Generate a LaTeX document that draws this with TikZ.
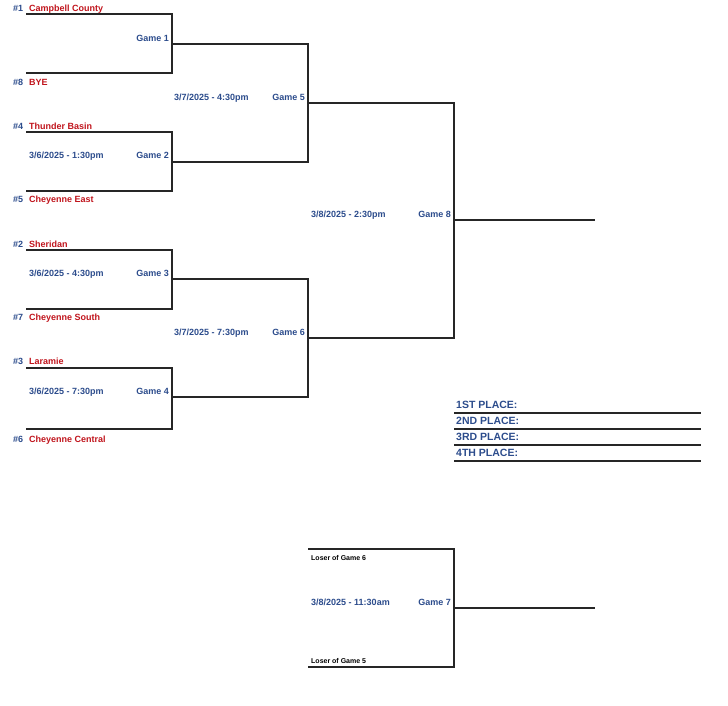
\documentclass[tikz,border=0pt]{standalone}
\usepackage{fontspec}
\setmainfont{Liberation Sans}
\definecolor{bblue}{RGB}{44,76,140}
\definecolor{bred}{RGB}{192,20,28}
\begin{document}
\begin{tikzpicture}[x=1pt,y=-1pt,
  txt/.style={inner sep=0pt,text height=6.4pt,text depth=0pt,font=\bfseries\fontsize{9}{10}\selectfont},
  seed/.style={txt,text=bblue,anchor=west},
  team/.style={txt,text=bred,anchor=west},
  date/.style={txt,text=bblue,anchor=west},
  game/.style={txt,text=bblue,anchor=east},
  place/.style={txt,text=bblue,anchor=west,font=\bfseries\fontsize{10.5}{12}\selectfont},
  loser/.style={inner sep=0pt,text height=5pt,text depth=0pt,anchor=west,font=\bfseries\fontsize{7}{8}\selectfont},
  line/.style={draw=black!85,line width=1.1pt}]
\useasboundingbox (0,0) rectangle (728,706);
% coordinates
\coordinate (s1) at (26,14);
\coordinate (s8) at (26,73);
\coordinate (s4) at (26,132);
\coordinate (s5) at (26,191);
\coordinate (s2) at (26,250);
\coordinate (s7) at (26,309);
\coordinate (s3) at (26,368);
\coordinate (s6) at (26,429);
\coordinate (g1) at (172,44);
\coordinate (g2) at (172,162);
\coordinate (g3) at (172,279);
\coordinate (g4) at (172,397);
\coordinate (g5) at (308,103);
\coordinate (g6) at (308,338);
\coordinate (g8) at (454,220);
\coordinate (champ) at (595,220);
\coordinate (l6) at (308,549);
\coordinate (l5) at (308,667);
\coordinate (g7) at (454,608);
\coordinate (third) at (595,608);
\coordinate (p1a) at (454,413); \coordinate (p1b) at (701,413);
\coordinate (p2a) at (454,429); \coordinate (p2b) at (701,429);
\coordinate (p3a) at (454,445); \coordinate (p3b) at (701,445);
\coordinate (p4a) at (454,461); \coordinate (p4b) at (701,461);
% bracket lines
\draw[line] (s1) -| (g1) |- (s8);
\draw[line] (s4) -| (g2) |- (s5);
\draw[line] (s2) -| (g3) |- (s7);
\draw[line] (s3) -| (g4) |- (s6);
\draw[line] (g1) -| (g5) |- (g2);
\draw[line] (g3) -| (g6) |- (g4);
\draw[line] (g5) -| (g8) |- (g6);
\draw[line] (g8) -- (champ);
\draw[line] (l6) -| (g7) |- (l5);
\draw[line] (g7) -- (third);
\draw[line] (p1a) -- (p1b);
\draw[line] (p2a) -- (p2b);
\draw[line] (p3a) -- (p3b);
\draw[line] (p4a) -- (p4b);
% seeds and teams
\node[seed] (n1) at (13,8) {\#1};   \node[team] (t1) at (29,8) {Campbell County};
\node[seed] (n8) at (13,82) {\#8};  \node[team] (t8) at (29,82) {BYE};
\node[seed] (n4) at (13,126) {\#4}; \node[team] (t4) at (29,126) {Thunder Basin};
\node[seed] (n5) at (13,199) {\#5}; \node[team] (t5) at (29,199) {Cheyenne East};
\node[seed] (n2) at (13,244) {\#2}; \node[team] (t2) at (29,244) {Sheridan};
\node[seed] (n7) at (13,317) {\#7}; \node[team] (t7) at (29,317) {Cheyenne South};
\node[seed] (n3) at (13,361) {\#3}; \node[team] (t3) at (29,361) {Laramie};
\node[seed] (n6) at (13,439) {\#6}; \node[team] (t6) at (29,439) {Cheyenne Central};
% games and dates
\node[game] (G1) at (169,38) {Game 1};
\node[game] (G2) at (169,155) {Game 2};
\node[date] (D2) at (29,155) {3/6/2025 - 1:30pm};
\node[game] (G3) at (169,273) {Game 3};
\node[date] (D3) at (29,273) {3/6/2025 - 4:30pm};
\node[game] (G4) at (169,391) {Game 4};
\node[date] (D4) at (29,391) {3/6/2025 - 7:30pm};
\node[game] (G5) at (305,97) {Game 5};
\node[date] (D5) at (174,97) {3/7/2025 - 4:30pm};
\node[game] (G6) at (305,332) {Game 6};
\node[date] (D6) at (174,332) {3/7/2025 - 7:30pm};
\node[game] (G8) at (451,214) {Game 8};
\node[date] (D8) at (311,214) {3/8/2025 - 2:30pm};
\node[game] (G7) at (451,602) {Game 7};
\node[date] (D7) at (311,602) {3/8/2025 - 11:30am};
\node[loser] (L6) at (311,558) {Loser of Game 6};
\node[loser] (L5) at (311,661) {Loser of Game 5};
% placings
\node[place] (P1) at (456,405) {1ST PLACE:};
\node[place] (P2) at (456,421) {2ND PLACE:};
\node[place] (P3) at (456,437) {3RD PLACE:};
\node[place] (P4) at (456,453) {4TH PLACE:};
\end{tikzpicture}
\end{document}
